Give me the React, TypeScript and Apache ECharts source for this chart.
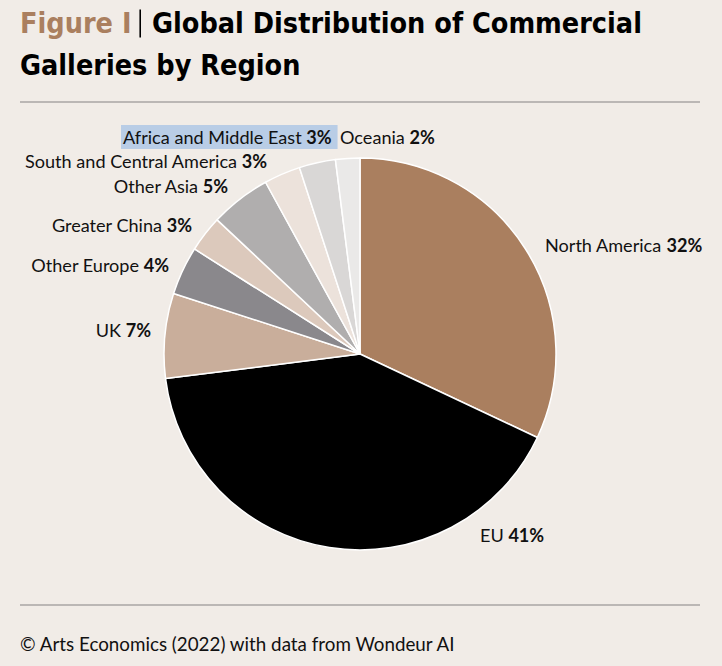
import React, { useEffect, useRef } from "react";
import * as echarts from "echarts";

const regions = [
  "North America",
  "EU",
  "UK",
  "Other Europe",
  "Greater China",
  "Other Asia",
  "South and Central America",
  "Africa and Middle East",
  "Oceania",
];
const shares = [32, 41, 7, 4, 3, 5, 3, 3, 2];
const sliceColors = [
  "#AA7F5F",
  "#000000",
  "#C9AE9B",
  "#8A888C",
  "#DCC9BC",
  "#B0AEAE",
  "#ECE2DB",
  "#D9D7D6",
  "#EAE9E8",
];

// label anchor positions (text only)
const labelAnchors: { x: number; y: number; align: "left" | "right" }[] = [
  { x: 545, y: 245, align: "left" },
  { x: 480, y: 535, align: "left" },
  { x: 151, y: 330, align: "right" },
  { x: 169, y: 265, align: "right" },
  { x: 192, y: 225, align: "right" },
  { x: 228, y: 186, align: "right" },
  { x: 267, y: 161, align: "right" },
  { x: 121, y: 137, align: "left" },
  { x: 340, y: 137, align: "left" },
];

const LABEL_FONT = "Lato, 'Noto Sans', sans-serif";
const TITLE_FONT = "'DejaVu Sans Condensed', 'DejaVu Sans', sans-serif";

export default function App() {
  const ref = useRef<HTMLDivElement>(null);
  useEffect(() => {
    document.body.style.margin = "0";
    const chart = echarts.init(ref.current!, null, { renderer: "svg" });
    const data = regions.map((name, i) => ({
      name,
      value: shares[i],
      itemStyle: { color: sliceColors[i] },
      label:
        i === 7
          ? { backgroundColor: "#B9CDE6", padding: [3, 6, 3, 2] }
          : undefined,
    }));
    chart.setOption({
      animation: false,
      backgroundColor: "#F1ECE7",
      graphic: [
        {
          type: "text",
          left: 20,
          top: 9,
          style: {
            text:
              "{a|Figure I}{g| }{s| }{h| }{b|Global Distribution of Commercial}\n{b|Galleries by Region}",
            rich: {
              a: {
                fontFamily: TITLE_FONT,
                fontWeight: "bold",
                fontSize: 28.5,
                fill: "#AA7F5F",
                lineHeight: 42,
              },
              g: { width: 8, fontSize: 28.5, lineHeight: 42 },
              h: { width: 11, fontSize: 28.5, lineHeight: 42 },
              s: {
                width: 1.6,
                height: 28,
                fontSize: 28.5,
                backgroundColor: "#000",
              },
              b: {
                fontFamily: TITLE_FONT,
                fontWeight: "bold",
                fontSize: 28.5,
                fill: "#000",
                lineHeight: 42,
              },
            },
          },
        },
        {
          type: "line",
          shape: { x1: 20, y1: 102, x2: 700, y2: 102 },
          style: { stroke: "#A8A6A4", lineWidth: 1.5 },
        },
        {
          type: "line",
          shape: { x1: 20, y1: 605, x2: 700, y2: 605 },
          style: { stroke: "#A8A6A4", lineWidth: 1.5 },
        },
        {
          type: "text",
          left: 20,
          top: 634,
          style: {
            text: "© Arts Economics (2022) with data from Wondeur AI",
            fontFamily: LABEL_FONT,
            fontSize: 18.8,
            fill: "#111",
          },
        },
      ],
      series: [
        {
          type: "pie",
          center: [360, 354],
          radius: 196,
          startAngle: 90,
          clockwise: true,
          avoidLabelOverlap: false,
          itemStyle: { borderColor: "#FFFFFF", borderWidth: 1.5 },
          emphasis: { disabled: true },
          labelLine: { show: false },
          label: {
            show: true,
            position: "outside",
            formatter: (p: any) => `{n|${p.name} }{v|${p.value}%}`,
            rich: {
              n: { fontFamily: LABEL_FONT, fontSize: 18.1, color: "#111" },
              v: {
                fontFamily: LABEL_FONT,
                fontSize: 18.1,
                fontWeight: "bold",
                color: "#111",
              },
            },
          },
          labelLayout: (params: any) => {
            const a = labelAnchors[params.dataIndex];
            return { x: a.x, y: a.y, align: a.align, verticalAlign: "middle" };
          },
          data,
        },
      ],
    });
    return () => chart.dispose();
  }, []);
  return (
    <div
      ref={ref}
      style={{ position: "fixed", left: 0, top: 0, width: 722, height: 666 }}
    />
  );
}
